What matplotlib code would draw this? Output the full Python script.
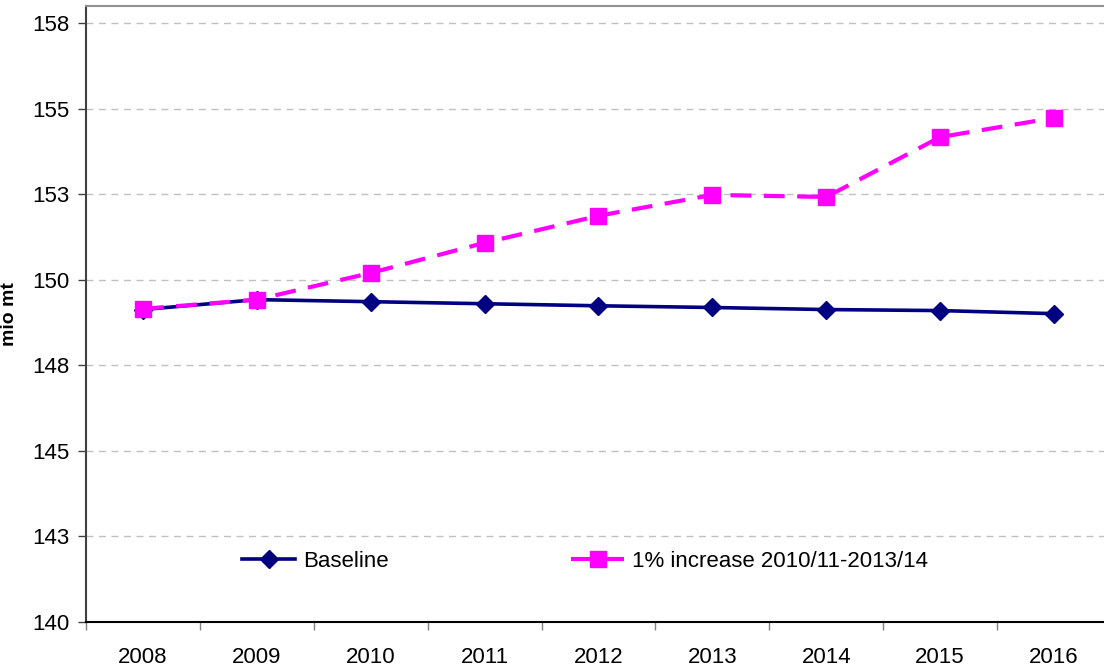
import matplotlib.pyplot as plt
import numpy as np

years = [2008, 2009, 2010, 2011, 2012, 2013, 2014, 2015, 2016]
baseline = [149.13, 149.42, 149.36, 149.30, 149.24, 149.19, 149.13, 149.10, 149.01]
increase = [149.15, 149.42, 150.20, 151.08, 151.87, 152.48, 152.42, 154.17, 154.73]
y_ticks = [140, 142.5, 145, 147.5, 150, 152.5, 155, 157.5]
y_tick_labels = ['140', '143', '145', '148', '150', '153', '155', '158']

plt.rcParams['font.family'] = ['Liberation Sans', 'DejaVu Sans']

fig = plt.figure(figsize=(11.04, 6.70), dpi=100)
ax = fig.add_axes([86 / 1104, 48 / 670, 1025 / 1104, 616 / 670])

x = np.arange(len(years))
ax.plot(x, baseline, color='#000080', linewidth=2.6, marker='D', markersize=9.5,
        label='Baseline', zorder=3)
ax.plot(x, increase, color='#FF00FF', linewidth=3, linestyle=(0, (5, 3)),
        marker='s', markersize=11, label='1% increase 2010/11-2013/14', zorder=4)

ax.set_xlim(-0.5, len(years) - 0.5)
ax.set_ylim(140, 158)
ax.set_yticks(y_ticks)
ax.set_yticklabels(y_tick_labels)
ax.set_xticks(x)
ax.set_xticklabels([str(y) for y in years])
ax.set_xticks(np.arange(-0.5, len(years) - 0.5 + 0.01, 1), minor=True)

ax.tick_params(axis='x', which='major', length=0, labelsize=16, pad=18)
ax.tick_params(axis='x', which='minor', length=6, width=1, color='#808080')
ax.tick_params(axis='y', length=6, width=1, color='#404040', labelsize=16, pad=6)

ax.grid(axis='y', color='#c0c0c0', linestyle=(0, (5, 4)), linewidth=1)
ax.set_axisbelow(True)

ax.spines['right'].set_visible(False)
ax.spines['top'].set_color('#909090')
ax.spines['top'].set_linewidth(1.5)
ax.spines['left'].set_color('#404040')
ax.spines['left'].set_linewidth(1.5)
ax.spines['bottom'].set_color('black')
ax.spines['bottom'].set_linewidth(1.5)

ax.set_ylabel('mio mt', fontsize=14, fontweight='bold', labelpad=10)

ax.legend(loc='center', bbox_to_anchor=(0.487, 0.099), ncol=2, frameon=False,
          fontsize=16, handlelength=2.4, columnspacing=8.2, handletextpad=0.35)

fig.savefig('out.png', dpi=100)
